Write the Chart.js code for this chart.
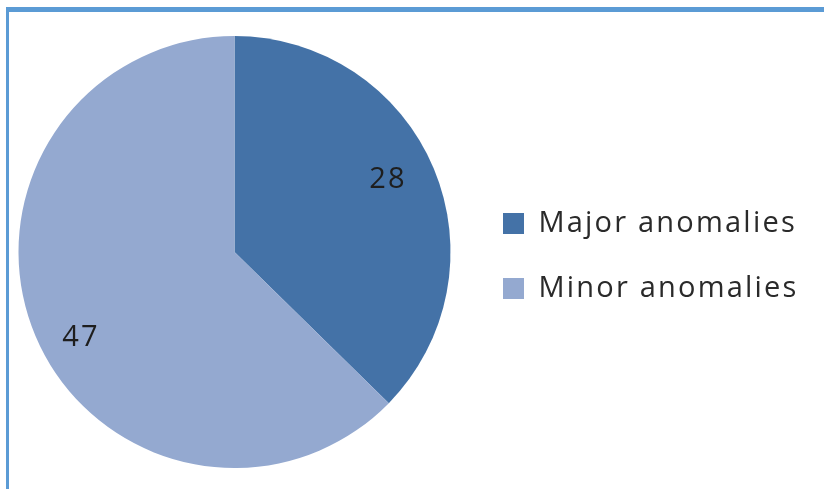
<!DOCTYPE html>
<html>
<head>
<meta charset="utf-8">
<script src="https://cdn.jsdelivr.net/npm/chart.js@4/dist/chart.umd.min.js"></script>
<style>
  html, body { margin: 0; padding: 0; background: #fff; }
  #wrap { position: relative; width: 824px; height: 489px; overflow: hidden; }
  #frame {
    position: absolute; left: 6px; top: 7px; right: -10px; bottom: -10px;
    border-top: 5px solid #5b9bd5; border-left: 3px solid #5b9bd5;
  }
  #c { position: absolute; left: 0; top: 0; }
</style>
</head>
<body>
<div id="wrap">
  <div id="frame"></div>
  <canvas id="c" width="824" height="489"></canvas>
</div>
<script>
// Anomaly counts by severity
const categories = ['Major anomalies', 'Minor anomalies'];
const counts = [28, 47];
const sliceColors = ['#4472a7', '#94a9d0'];

const FONT_FAMILY = '"Open Sans", "Liberation Sans", sans-serif';
const FONT_SIZE = 29;
const TRACKING = '2.2px';
const BOX = 21;
const LEGEND_PAD = 36;
const LEGEND_LEFT = 467;   // where the legend column begins
const LEGEND_DROP = 4;     // legend sits a little below the pie's centre line

// Width of the widest legend text, measured with the same font and tracking
function widestLabel() {
  const m = document.createElement('canvas').getContext('2d');
  m.font = FONT_SIZE + 'px ' + FONT_FAMILY;
  m.letterSpacing = TRACKING;
  return Math.max(...categories.map(t => m.measureText(t).width));
}

// Keep the tracking on the chart context (canvas resizes reset it)
const tracking = {
  id: 'tracking',
  beforeUpdate(chart) { chart.ctx.letterSpacing = TRACKING; },
  beforeLayout(chart) { chart.ctx.letterSpacing = TRACKING; },
  afterLayout(chart) {
    if (chart.legend) {
      chart.legend.top += LEGEND_DROP;
      chart.legend.bottom += LEGEND_DROP;
    }
  },
  beforeDraw(chart) { chart.ctx.letterSpacing = TRACKING; }
};

// Value labels inside each slice
const sliceLabels = {
  id: 'sliceLabels',
  afterDatasetsDraw(chart) {
    const ctx = chart.ctx;
    const meta = chart.getDatasetMeta(0);
    const values = chart.data.datasets[0].data;
    ctx.save();
    ctx.letterSpacing = TRACKING;
    ctx.font = FONT_SIZE + 'px ' + FONT_FAMILY;
    ctx.fillStyle = '#1e1e1e';
    ctx.textAlign = 'center';
    ctx.textBaseline = 'middle';
    meta.data.forEach((arc, i) => {
      const p = arc.getProps(['x', 'y', 'startAngle', 'endAngle', 'outerRadius'], true);
      const mid = (p.startAngle + p.endAngle) / 2 - 4.5 * Math.PI / 180;
      const r = p.outerRadius * 0.8;
      ctx.fillText(String(values[i]), p.x + Math.cos(mid) * r, p.y + Math.sin(mid) * r + FONT_SIZE * 0.24);
    });
    ctx.restore();
  }
};

const colWidth = BOX + FONT_SIZE / 2 + widestLabel();
const rightPad = Math.max(0, 824 - LEGEND_LEFT - (LEGEND_PAD + colWidth + 10));

new Chart(document.getElementById('c'), {
  type: 'pie',
  data: {
    labels: categories,
    datasets: [{
      data: counts,
      backgroundColor: sliceColors,
      borderWidth: 0,
      hoverOffset: 0
    }]
  },
  options: {
    responsive: false,
    animation: false,
    events: [],
    layout: { padding: { left: 2, top: 36, bottom: 21, right: rightPad } },
    plugins: {
      tooltip: { enabled: false },
      legend: {
        position: 'right',
        labels: {
          boxWidth: BOX,
          boxHeight: BOX,
          padding: LEGEND_PAD,
          color: '#2a2a2a',
          font: { family: FONT_FAMILY, size: FONT_SIZE }
        }
      }
    }
  },
  plugins: [tracking, sliceLabels]
});
</script>
</body>
</html>
